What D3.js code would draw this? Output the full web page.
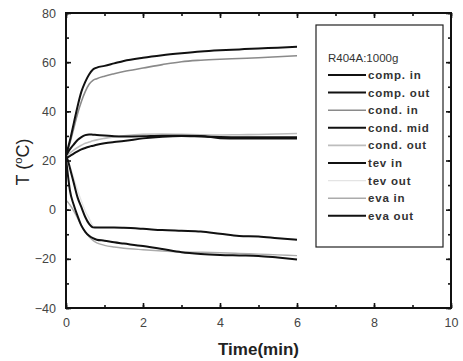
<!DOCTYPE html>
<html><head><meta charset="utf-8">
<script src="https://cdn.jsdelivr.net/npm/d3@7"></script>
<style>body{margin:0;background:#fff}svg{display:block}</style>
</head><body>
<script>
const time = [0,0.05,0.1,0.2,0.3,0.4,0.5,0.6,0.7,0.8,1,1.25,1.5,2,2.5,3,3.5,4,4.5,5,5.5,6];
const compIn  = [22,20,17,11,5,1,-3,-5.8,-7.2,-7.3,-7.3,-7.3,-7.4,-7.8,-8.3,-8.6,-8.9,-9.8,-10.7,-10.9,-11.6,-12.2];
const compOut = [22,25,28,35,42,48,52,55,57,57.8,58.5,59.5,60.5,61.8,62.8,63.6,64.3,64.8,65.2,65.6,65.9,66.3];
const condIn  = [22,24.5,27,33,39,44,48,51,52.6,53.3,54.3,55.3,56.2,57.6,59,60.2,60.8,61.2,61.5,61.8,62.2,62.6];
const condMid = [22,23.3,24.5,26.5,28.3,29.5,30.3,30.6,30.5,30.4,30.2,29.9,29.8,29.9,30.1,30.1,30,29.1,28.9,28.9,29,29];
const condOut = [22,22.5,23,24.2,25.3,26.2,27,27.5,28,28.4,29,29.6,30.1,30.7,30.8,30.7,30.5,30.4,30.5,30.6,30.8,31];
const tevIn   = [21,21.4,21.8,22.8,23.7,24.5,25.1,25.6,26,26.4,27,27.5,27.9,29,29.7,30,29.8,29.6,29.5,29.5,29.5,29.5];
const tevOut  = [22,20,18,13,8,3.5,-0.5,-3.5,-6.5,-7.2,-7.3,-7.3,-7.4,-7.8,-8.3,-8.6,-8.9,-9.8,-10.7,-10.9,-11.6,-12.2];
const evaIn   = [4,3,2,-0.5,-3.5,-6.5,-9,-11,-12.5,-13.5,-14.5,-15.2,-15.7,-16.3,-16.8,-17.2,-17.3,-17.5,-17.8,-18.1,-18.4,-18.7];
const evaOut  = [21,14,8,2,-2.5,-6.5,-9,-10.6,-11.6,-12.2,-12.6,-13.3,-13.8,-14.8,-16,-17.3,-18,-18.4,-18.6,-18.8,-19.5,-20.3];

const seriesNames = ["comp. in","comp. out","cond. in","cond. mid","cond. out","tev in","tev out","eva in","eva out"];
const seriesValues = [compIn,compOut,condIn,condMid,condOut,tevIn,tevOut,evaIn,evaOut];
const seriesColors = ["#111","#111","#8a8a8a","#111","#bdbdbd","#111","#e4e4e4","#ababab","#111"];
const seriesWidths = [2,2,1.6,2,1.6,2,1.2,1.4,2];
const legendTitle = "R404A:1000g";
const xTicks = [0,2,4,6,8,10];
const yTicks = [-40,-20,0,20,40,60,80];

const W=463,H=361;
const L=66,R=451,T=13,B=308;
const svg=d3.select("body").append("svg").attr("width",W).attr("height",H);
svg.append("rect").attr("width",W).attr("height",H).attr("fill","#fff");
const x=d3.scaleLinear().domain([0,10]).range([L,R]);
const y=d3.scaleLinear().domain([-40,80]).range([B,T]);

const order=[6,4,7,2,5,3,8,0,1];
const line=d3.line().x((d,i)=>x(time[i])).y(d=>y(d)).curve(d3.curveMonotoneX);
order.forEach(k=>{
  svg.append("path").datum(seriesValues[k]).attr("d",line)
    .attr("fill","none").attr("stroke",seriesColors[k]).attr("stroke-width",seriesWidths[k])
    .attr("stroke-linejoin","round");
});

const font="'Liberation Sans', Arial, sans-serif";
const minorX=d3.range(0,10.01,1), minorY=d3.range(-40,80.01,10);
const ax=svg.append("g");
ax.append("g").attr("transform",`translate(0,${B})`).call(d3.axisBottom(x).tickValues(minorX).tickSize(-3).tickFormat(""));
ax.append("g").attr("transform",`translate(0,${B})`).call(d3.axisBottom(x).tickValues(xTicks).tickSize(-5).tickPadding(10).tickFormat(d3.format("d")));
ax.append("g").attr("transform",`translate(0,${T})`).call(d3.axisTop(x).tickValues(minorX).tickSize(-3).tickFormat(""));
ax.append("g").attr("transform",`translate(0,${T})`).call(d3.axisTop(x).tickValues(xTicks).tickSize(-5).tickFormat(""));
ax.append("g").attr("transform",`translate(${L},0)`).call(d3.axisLeft(y).tickValues(minorY).tickSize(-3).tickFormat(""));
ax.append("g").attr("transform",`translate(${L},0)`).call(d3.axisLeft(y).tickValues(yTicks).tickSize(-5).tickPadding(10).tickFormat(d3.format("d")));
ax.append("g").attr("transform",`translate(${R},0)`).call(d3.axisRight(y).tickValues(minorY).tickSize(-3).tickFormat(""));
ax.append("g").attr("transform",`translate(${R},0)`).call(d3.axisRight(y).tickValues(yTicks).tickSize(-5).tickFormat(""));
ax.selectAll(".domain").remove();
ax.selectAll(".tick line").attr("stroke","#111").attr("stroke-width",1.6);
ax.selectAll(".tick text").attr("font-family",font).attr("font-size",12.5).attr("fill","#444");
svg.append("rect").attr("x",L).attr("y",T).attr("width",R-L).attr("height",B-T)
  .attr("fill","none").attr("stroke","#111").attr("stroke-width",2);

svg.append("text").attr("x",(L+R)/2).attr("y",355).attr("text-anchor","middle")
  .attr("font-family",font).attr("font-weight","bold").attr("font-size",17).attr("fill","#222")
  .text("Time(min)");
const yl=svg.append("text").attr("transform","translate(29,162) rotate(-90)").attr("text-anchor","middle")
  .attr("font-family",font).attr("font-size",18).attr("fill","#222");
yl.append("tspan").text("T (");
yl.append("tspan").attr("font-size",11).attr("dy",-7).text("o");
yl.append("tspan").attr("dy",7).text("C)");

const lg=svg.append("g");
lg.append("rect").attr("x",316).attr("y",25).attr("width",127).attr("height",222)
  .attr("fill","#fff").attr("stroke","#222").attr("stroke-width",1.2);
lg.append("text").attr("x",328).attr("y",62).attr("font-family",font).attr("font-size",11.5).attr("fill","#333").text(legendTitle);
seriesNames.forEach((n,i)=>{
  const yy=75+i*17.6;
  lg.append("line").attr("x1",328).attr("x2",366).attr("y1",yy).attr("y2",yy)
    .attr("stroke",seriesColors[i]).attr("stroke-width",seriesWidths[i]);
  lg.append("text").attr("x",368).attr("y",yy+4).attr("font-family",font).attr("font-size",11.5)
    .attr("font-weight","bold").attr("letter-spacing",0.8).attr("fill","#333").text(n);
});
</script>
</body></html>
